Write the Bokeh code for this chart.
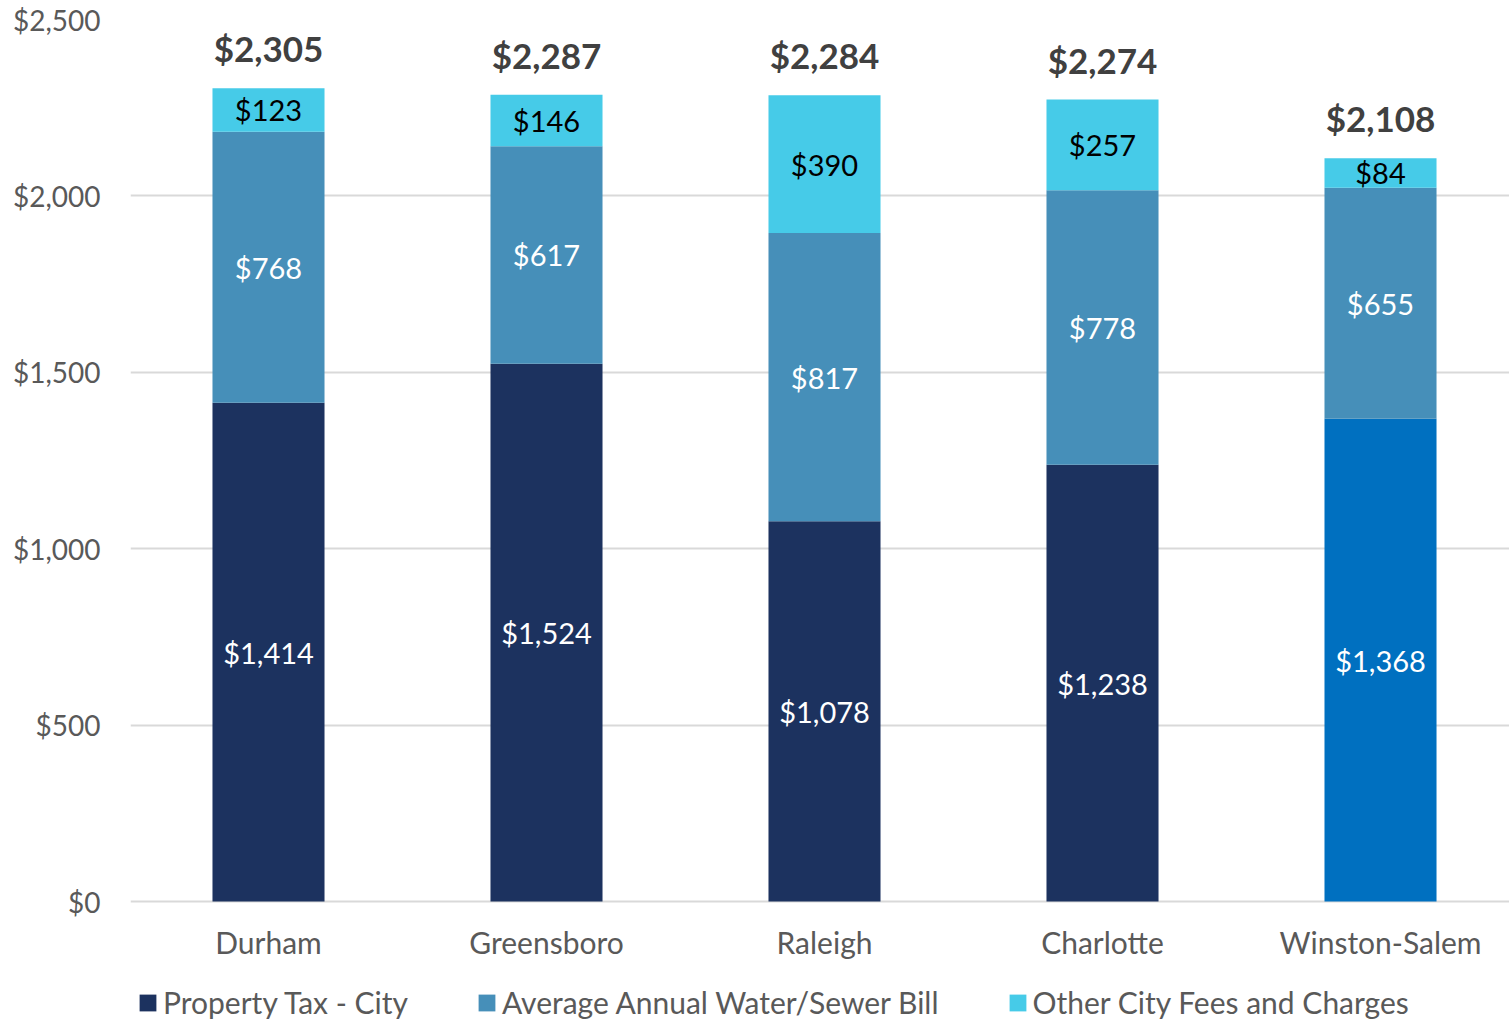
from bokeh.plotting import figure
from bokeh.models import ColumnDataSource, Range1d, Legend, LegendItem, FixedTicker, NumeralTickFormatter
from bokeh.core.properties import value
from bokeh.embed import file_html
from bokeh.resources import INLINE

cities = ["Durham", "Greensboro", "Raleigh", "Charlotte", "Winston-Salem"]
property_tax = [1414, 1524, 1078, 1238, 1368]
water_sewer = [768, 617, 817, 778, 655]
other_fees = [123, 146, 390, 257, 84]
totals = [2305, 2287, 2284, 2274, 2108]
series_names = ["Property Tax - City", "Average Annual Water/Sewer Bill", "Other City Fees and Charges"]

C_PROP = "#1C325F"
C_PROP_WS = "#0070C0"
C_WATER = "#468FB9"
C_OTHER = "#46CBE8"
FONT = "Lato"

idx = list(range(len(cities)))
b1 = [0] * len(cities)
t1 = property_tax
t2 = [a + b for a, b in zip(t1, water_sewer)]
t3 = [a + b for a, b in zip(t2, other_fees)]

# frame extends to the bottom edge so that category labels and legend sit inside it
p = figure(width=1509, height=1020, output_backend="svg", toolbar_location=None,
           x_range=Range1d(-0.4964, 4.464), y_range=Range1d(-337.3, 2500),
           min_border_left=130, min_border_right=0, min_border_top=19, min_border_bottom=0)
p.outline_line_color = None
p.background_fill_color = "white"
p.border_fill_color = "white"

W = 0.403
src_p = ColumnDataSource(dict(x=idx[:4], top=t1[:4], bottom=b1[:4]))
src_pw = ColumnDataSource(dict(x=idx[4:], top=t1[4:], bottom=b1[4:]))
r_prop = p.vbar(x="x", top="top", bottom="bottom", width=W, source=src_p, fill_color=C_PROP, line_color=None)
p.vbar(x="x", top="top", bottom="bottom", width=W, source=src_pw, fill_color=C_PROP_WS, line_color=None)
r_water = p.vbar(x=idx, top=t2, bottom=t1, width=W, fill_color=C_WATER, line_color=None)
r_other = p.vbar(x=idx, top=t3, bottom=t2, width=W, fill_color=C_OTHER, line_color=None)

def fmt(v):
    return "${:,}".format(v)

p.text(x=idx, y=[(a + b) / 2 for a, b in zip(b1, t1)], text=[fmt(v) for v in property_tax],
       text_align="center", text_baseline="middle", text_color="white",
       text_font=value(FONT), text_font_size="29px")
p.text(x=idx, y=[(a + b) / 2 for a, b in zip(t1, t2)], text=[fmt(v) for v in water_sewer],
       text_align="center", text_baseline="middle", text_color="white",
       text_font=value(FONT), text_font_size="29px")
p.text(x=idx, y=[(a + b) / 2 for a, b in zip(t2, t3)], text=[fmt(v) for v in other_fees],
       text_align="center", text_baseline="middle", text_color="black",
       text_font=value(FONT), text_font_size="29px")
p.text(x=idx, y=t3, text=[fmt(v) for v in totals], y_offset=-40,
       text_align="center", text_baseline="middle", text_color="#404040", text_font_style="bold",
       text_font=value(FONT), text_font_size="35px")
# category labels under the baseline
p.text(x=idx, y=b1, text=cities, y_offset=40,
       text_align="center", text_baseline="middle", text_color="#595959",
       text_font=value(FONT), text_font_size="30px")

p.yaxis.ticker = FixedTicker(ticks=[0, 500, 1000, 1500, 2000, 2500])
p.yaxis.formatter = NumeralTickFormatter(format="$0,0")
p.yaxis.axis_line_color = None
p.yaxis.major_tick_line_color = None
p.yaxis.minor_tick_line_color = None
p.yaxis.major_label_standoff = 24
p.yaxis.major_label_text_font = FONT
p.yaxis.major_label_text_font_size = "28px"
p.yaxis.major_label_text_color = "#595959"

p.xaxis.visible = False
p.xgrid.grid_line_color = None
p.ygrid.grid_line_color = "#D9D9D9"
p.ygrid.grid_line_width = 2

items = [LegendItem(label=series_names[0], renderers=[r_prop]),
         LegendItem(label=series_names[1], renderers=[r_water]),
         LegendItem(label=series_names[2], renderers=[r_other])]
lg = Legend(items=items, location=(7, 0), orientation="horizontal",
            glyph_width=21, glyph_height=21, label_standoff=5, spacing=68,
            padding=0, margin=0, border_line_color=None, background_fill_alpha=0,
            label_text_font=FONT, label_text_font_size="30px", label_text_color="#595959")
p.add_layout(lg)

open("out.html", "w").write(file_html(p, INLINE))
